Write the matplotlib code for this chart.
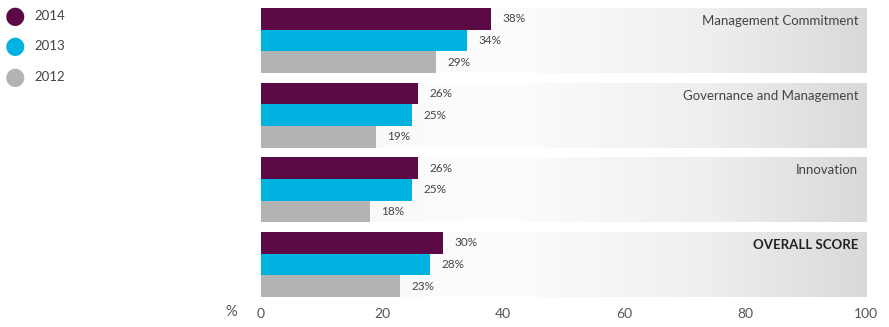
import matplotlib.pyplot as plt
import numpy as np
from matplotlib.colors import LinearSegmentedColormap

categories = ["Management Commitment", "Governance and Management", "Innovation", "OVERALL SCORE"]
years = ["2014", "2013", "2012"]
values_2014 = [38, 26, 26, 30]
values_2013 = [34, 25, 25, 28]
values_2012 = [29, 19, 18, 23]
x_ticks = [0, 20, 40, 60, 80, 100]

colors = ["#5c0a45", "#00b2e0", "#b3b3b3"]
text_color = "#444444"
plt.rcParams["font.family"] = ["Lato", "DejaVu Sans"]

fig = plt.figure(figsize=(8.89, 3.27), dpi=100)
ax = fig.add_axes([261 / 889, 30 / 327, (866 - 261) / 889, (319 - 30) / 327])

gap = 0.45
pitch = 3 + gap
series = [values_2014, values_2013, values_2012]

# gradient panel: white on the left, light grey towards the right
grad_cmap = LinearSegmentedColormap.from_list(
    "panel", [(0, "#f7f7f7"), (0.4, "#fdfdfd"), (0.75, "#eeeeee"), (1, "#d9d9d9")]
)
grad = np.linspace(0, 1, 256).reshape(1, -1)

for i, cat in enumerate(categories):
    top = i * pitch
    ax.imshow(grad, cmap=grad_cmap, aspect="auto", extent=[0, 100, top + 3, top],
              zorder=0, interpolation="bicubic")
    for j, vals in enumerate(series):
        y = top + j + 0.5
        ax.barh(y, vals[i], height=1.0, color=colors[j], zorder=2)
        ax.text(vals[i] + 1.9, y, f"{vals[i]}%", va="center", ha="left",
                fontsize=8.5, color=text_color, zorder=3)
    ax.text(98.7, top + 0.6, cat, va="center", ha="right", fontsize=9.5,
            color="#222222" if i == 3 else text_color,
            fontweight="bold" if i == 3 else "normal", zorder=3)

ax.set_xlim(0, 100)
ax.set_ylim(4 * pitch - gap, 0)
ax.set_xticks(x_ticks)
ax.set_xticklabels([str(t) for t in x_ticks], fontsize=10, color="#555555")
ax.set_yticks([])
ax.tick_params(axis="x", length=0, pad=8)
for s in ax.spines.values():
    s.set_visible(False)
ax.text(-4, -0.053, "%", transform=ax.get_xaxis_transform(), ha="right", va="center",
        fontsize=10.5, color="#555555")

# legend with circles at the top left
for j, yr in enumerate(years):
    yy = 1 - (16 + j * 30.5) / 327
    fig.text(15 / 889, yy, "\u25CF", fontsize=17, color=colors[j], ha="center", va="center",
             family="DejaVu Sans")
    fig.text(34 / 889, yy, yr, fontsize=9.5, color="#444444", ha="left", va="center")

fig.savefig("out.png", dpi=100)
